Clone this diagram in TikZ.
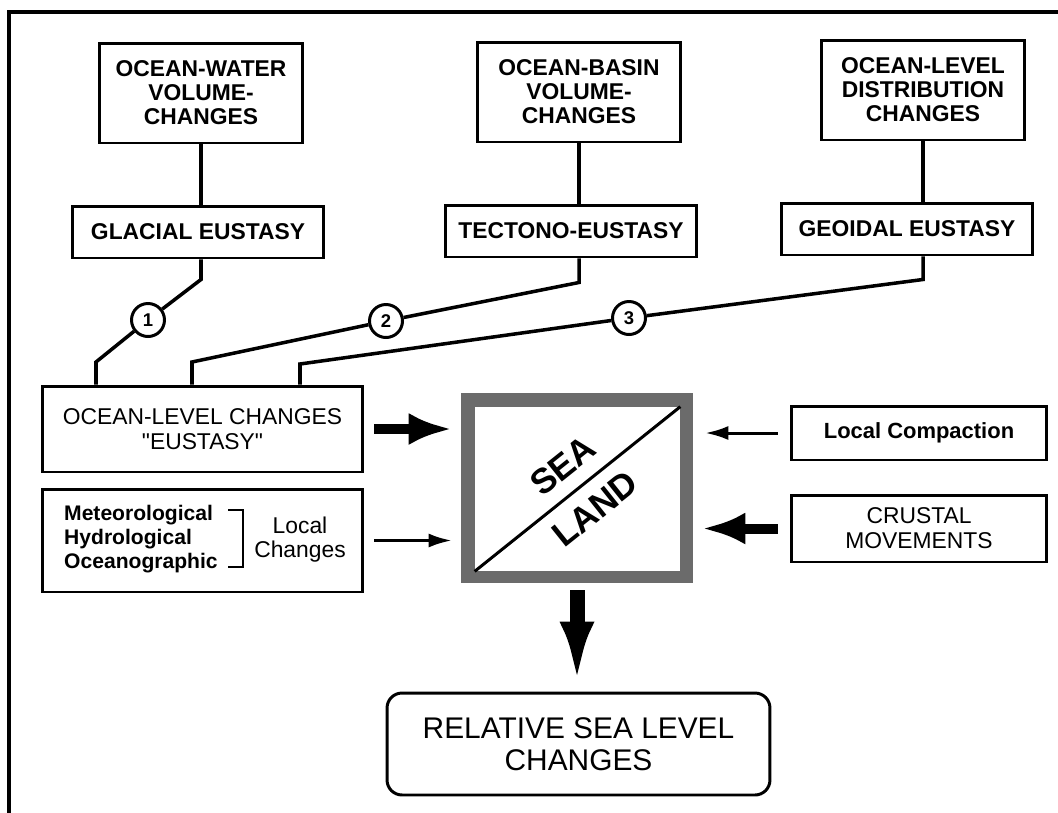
\documentclass[tikz,border=0pt]{standalone}
\usepackage{fontspec}
\setmainfont{Liberation Sans}
\newfontfamily\labelfont{Liberation Sans}
\usetikzlibrary{arrows.meta}
\begin{document}
\begin{tikzpicture}[x=0.02cm,y=-0.02cm]
\tikzstyle{box} = [draw,line width=1.7pt,text centered,align=center,inner sep=0pt]
\tikzstyle{topbox} = [box,minimum width=4.08cm,minimum height=2cm,font=\bfseries\fontsize{13}{13.6}\selectfont]
\tikzstyle{eusbox} = [box,minimum width=5.04cm,minimum height=1.04cm,font=\bfseries\fontsize{13}{14}\selectfont]
\tikzstyle{sidebox} = [box,font=\labelfont\fontsize{13}{14.2}\selectfont]
\tikzstyle{num} = [draw,circle,line width=1.7pt,fill=white,minimum size=0.66cm,inner sep=0pt,font=\bfseries\fontsize{10.5}{10.5}\selectfont]
\tikzstyle{link} = [line width=2pt]
\tikzstyle{fatarrow} = [line width=0.2cm,-{Latex[length=0.86cm,width=0.64cm]}]
\tikzstyle{thinarrow} = [line width=0.06cm,-{Latex[length=0.46cm,width=0.28cm]}]
\tikzstyle{diag} = [rotate=38.6,inner sep=0pt,font=\bfseries\fontsize{20}{20}\selectfont]
	\useasboundingbox (0,0) rectangle (1058,812);
	\draw[line width=0.07cm] (9,830) -- (9,12) -- (1070,12);
	\node[topbox] (water) at (201,93) {OCEAN-WATER\\VOLUME-\\CHANGES};
	\node[topbox] (basin) at (579,92) {OCEAN-BASIN\\VOLUME-\\CHANGES};
	\node[topbox] (distr) at (923,90) {OCEAN-LEVEL\\DISTRIBUTION\\CHANGES};
	\node[eusbox] (glac) at (198,232) {GLACIAL EUSTASY};
	\node[eusbox] (tect) at (571,231) {TECTONO-EUSTASY};
	\node[eusbox] (geoid) at (907,229) {GEOIDAL EUSTASY};
	\node[sidebox,minimum width=6.42cm,minimum height=1.72cm] (eust) at (202.5,429) {OCEAN-LEVEL CHANGES\\"EUSTASY"};
	\node[box,minimum width=6.42cm,minimum height=2.06cm] (loc) at (202.5,540.5) {};
	\node[anchor=west,align=left,font=\bfseries\fontsize{12}{13.6}\selectfont] (met) at (58,539) {Meteorological\\Hydrological\\Oceanographic};
	\node[align=center,font=\fontsize{13}{13.6}\selectfont] (lch) at (300,540) {Local\\Changes};
	\draw[line width=1.2pt] (228,510) -| (243,567) -- (228,567);
	\node[fill=black!58,minimum width=4.64cm,minimum height=3.8cm] (sea) at (577,488) {};
	\node[fill=white,minimum width=4.1cm,minimum height=3.28cm] (land) at (577.5,489) {};
	\draw[line width=0.06cm] (land.south west) -- (land.north east);
	\node[diag] (seatxt) at (563,466) {SEA};
	\node[diag] (landtxt) at (595,509) {LAND};
	\node[sidebox,minimum width=5.12cm,minimum height=1.08cm,font=\bfseries\fontsize{12.5}{14}\selectfont] (comp) at (919,433) {Local Compaction};
	\node[sidebox,minimum width=5.12cm,minimum height=1.34cm] (crust) at (919,528.5) {CRUSTAL\\MOVEMENTS};
	\node[box,rounded corners=0.3cm,minimum width=7.66cm,minimum height=2.04cm,font=\fontsize{17}{18}\selectfont] (rel) at (578.5,744) {RELATIVE SEA LEVEL\\CHANGES};
	\node[num] (c1) at (148,320) {1};
	\node[num] (c2) at (386,321) {2};
	\node[num] (c3) at (629,318) {3};
	\coordinate (k1) at (96,362);
	\coordinate (k2) at (192,362);
	\coordinate (k3) at (300,364);
	\draw[link] (water) -- (water |- glac.north);
	\draw[link] (basin) -- (basin |- tect.north);
	\draw[link] (distr) -- (distr |- geoid.north);
	\draw[link] (water |- glac.south) -- ++(0,20) -- (c1) -- (k1) -- (k1 |- eust.north);
	\draw[link] (basin |- tect.south) -- ++(0,24) -- (c2) -- (k2) -- (k2 |- eust.north);
	\draw[link] (distr |- geoid.south) -- ++(0,23) -- (c3) -- (k3) -- (k3 |- eust.north);
	\draw[fatarrow,shorten <=0.2cm,shorten >=0.18cm] (eust.east) -- (eust.east -| sea.west);
	\draw[thinarrow,shorten <=0.2cm,shorten >=0.18cm] (loc.east) -- (loc.east -| sea.west);
	\draw[thinarrow,shorten <=0.24cm,shorten >=0.24cm] (comp.west) -- (comp.west -| sea.east);
	\draw[fatarrow,shorten <=0.24cm,shorten >=0.18cm] (crust.west) -- (crust.west -| sea.east);
	\draw[line width=0.3cm,-{Latex[length=1.28cm,width=0.68cm]},shorten <=0.14cm,shorten >=0.12cm] (sea.south) -- (sea.south |- rel.north);
\end{tikzpicture}
\end{document}
